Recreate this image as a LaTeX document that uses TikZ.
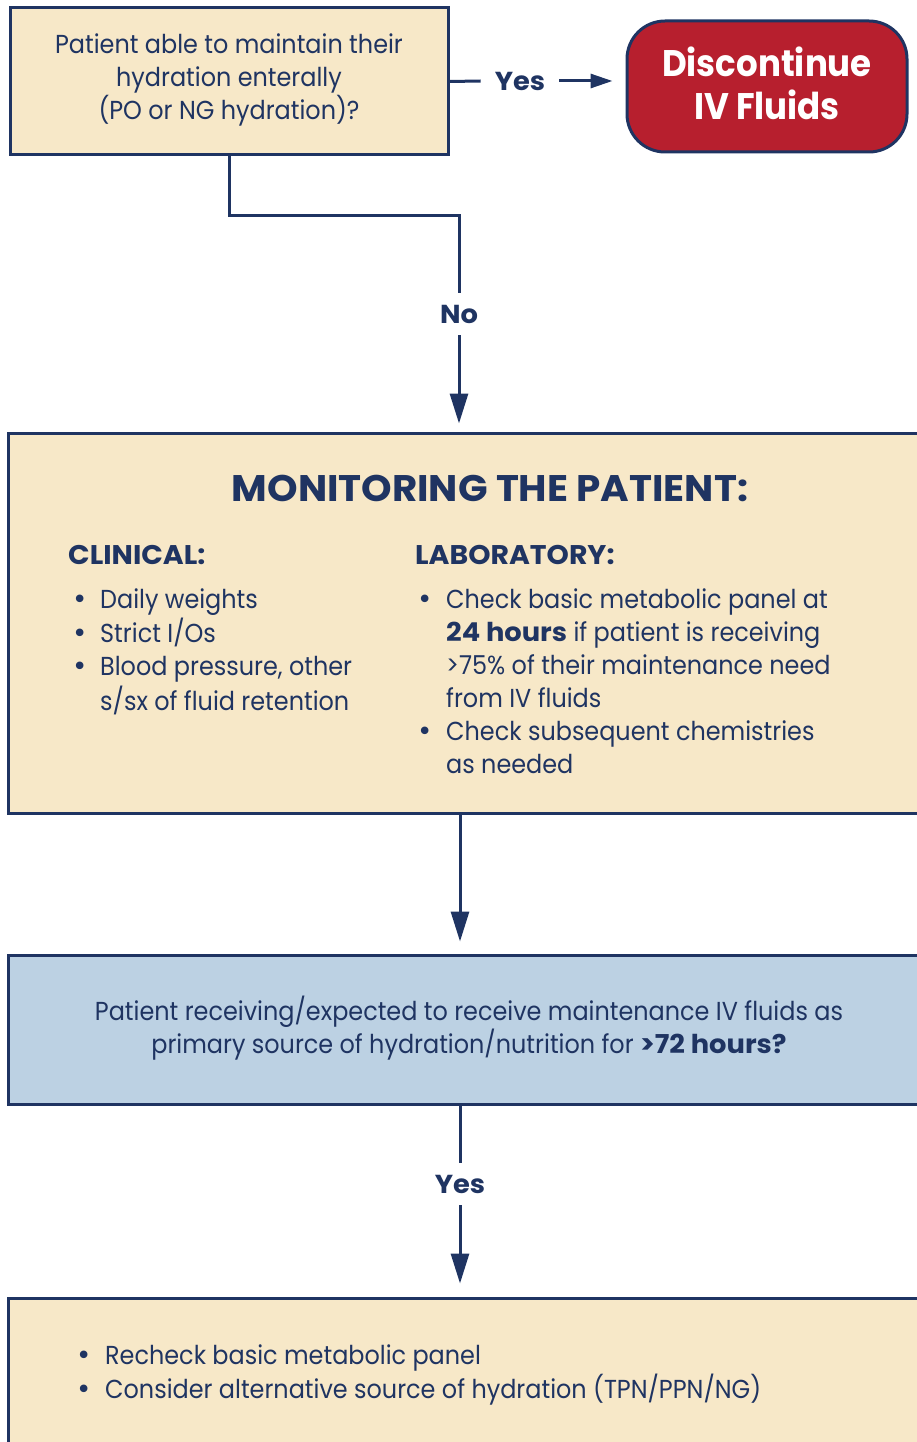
\documentclass[tikz,border=0pt]{standalone}
\usepackage{fontspec}
\setmainfont{Poppins}[FakeStretch=0.92]
\newfontfamily\bff{Poppins}[FakeStretch=1.05]
\newfontfamily\discf{Poppins}[FakeStretch=0.92]
\newfontfamily\bulf{DejaVu Sans}
\newcommand\hb[1]{{\bff\bfseries #1}}
\newcommand\bul{{\bulf •}}
\usetikzlibrary{arrows.meta}
\definecolor{navy}{HTML}{1F3462}
\definecolor{beige}{HTML}{F7E8C8}
\definecolor{redbox}{HTML}{B71F2E}
\definecolor{bluebox}{HTML}{BCD1E3}
\begin{document}
\begin{tikzpicture}[x=1pt,y=-1pt,
  box/.style={draw=navy, line width=3pt, fill=beige, rectangle, inner sep=0pt},
  txt/.style={text=navy, inner sep=0pt, font={\fontsize{26}{33}\selectfont}},
  hdr/.style={text=navy, inner sep=0pt, font={\fontsize{27}{33}\selectfont\bff\bfseries}},
  lbl/.style={text=navy, inner xsep=14pt, inner ysep=12pt, font={\fontsize{26}{30}\selectfont\bff\bfseries}},
  conn/.style={draw=navy, line width=3pt},
  arr/.style={conn, -{Triangle[length=30pt,width=18pt]}},
  sarr/.style={conn, -{Triangle[length=22pt,width=14pt]}}
]
\useasboundingbox (0,0) rectangle (917,1442);
\clip (0,0) rectangle (917,1442);
\coordinate (ax) at (460,0);

% top question
\node[box, minimum width=438pt, minimum height=147pt] (q1) at (229,81.5) {};
\node[txt, align=center] (q1t) at (229,80) {Patient able to maintain their\\hydration enterally\\(PO or NG hydration)?};

% discontinue
\node[draw=navy, line width=3pt, fill=redbox, rounded corners=38pt, minimum width=280pt, minimum height=131pt, inner sep=0pt] (stop) at (767,86.5) {};
\node[text=white, inner sep=0pt, align=center, font={\fontsize{37}{43}\selectfont\discf\bfseries}] (stopt) at (767,83) {Discontinue\\IV Fluids};

% yes arrow
\node[lbl] (yes1) at (520,81) {Yes};
\draw[conn] (q1.east) -- (yes1.west);
\draw[sarr, shorten >=13pt] (yes1.east) -- (stop.west |- yes1.east);

% monitoring box
\node[box, minimum width=917pt, minimum height=380pt] (mon) at (466.5,623) {};
\node[text=navy, inner sep=0pt, font={\fontsize{37}{40}\selectfont\bff\bfseries}] (mont) at (490,488) {MONITORING THE PATIENT:};
\node[hdr, anchor=west] (clin) at (68,555) {CLINICAL:};
\node[hdr, anchor=west] (lab) at (415,555) {LABORATORY:};
\node[txt, anchor=north west] (clinl) at (72,585) {\begin{tabular}{@{}p{28pt}@{}l@{}}
\bul & Daily weights\\
\bul & Strict I/Os\\
\bul & Blood pressure, other\\
 & s/sx of fluid retention
\end{tabular}};
\node[txt, anchor=north west] (labl) at (417,585) {\begin{tabular}{@{}p{29pt}@{}l@{}}
\bul & Check basic metabolic panel at\\
 & \hb{24 hours} if patient is receiving\\
 & >75\% of their maintenance need\\
 & from IV fluids\\
\bul & Check subsequent chemistries\\
 & as needed
\end{tabular}};

% no connector
\node[lbl] (no) at (459,314) {No};
\draw[conn] (q1.south) |- (no.north |- 0,215) -- (no.north);
\draw[arr, shorten >=8pt] (no.south) -- (no.south |- mon.north);

% second question
\node[box, fill=bluebox, minimum width=917pt, minimum height=149pt] (q2) at (466.5,1029.5) {};
\node[txt, align=center] (q2t) at (469,1028) {Patient receiving/expected to receive maintenance IV fluids as\\primary source of hydration/nutrition for \hb{>72 hours?}};
\draw[arr, shorten >=12pt] (mon.south -| ax) -- (q2.north -| ax);

% action box
\node[box, minimum width=917pt, minimum height=152pt] (act) at (466.5,1374) {};
\node[txt, anchor=north west] (actl) at (76,1341) {\begin{tabular}{@{}p{29pt}@{}l@{}}
\bul & Recheck basic metabolic panel\\
\bul & Consider alternative source of hydration (TPN/PPN/NG)
\end{tabular}};
\node[lbl] (yes2) at (460,1184) {Yes};
\draw[conn] (q2.south -| ax) -- (yes2.north);
\draw[arr, shorten >=13pt] (yes2.south) -- (act.north -| ax);
\end{tikzpicture}
\end{document}
